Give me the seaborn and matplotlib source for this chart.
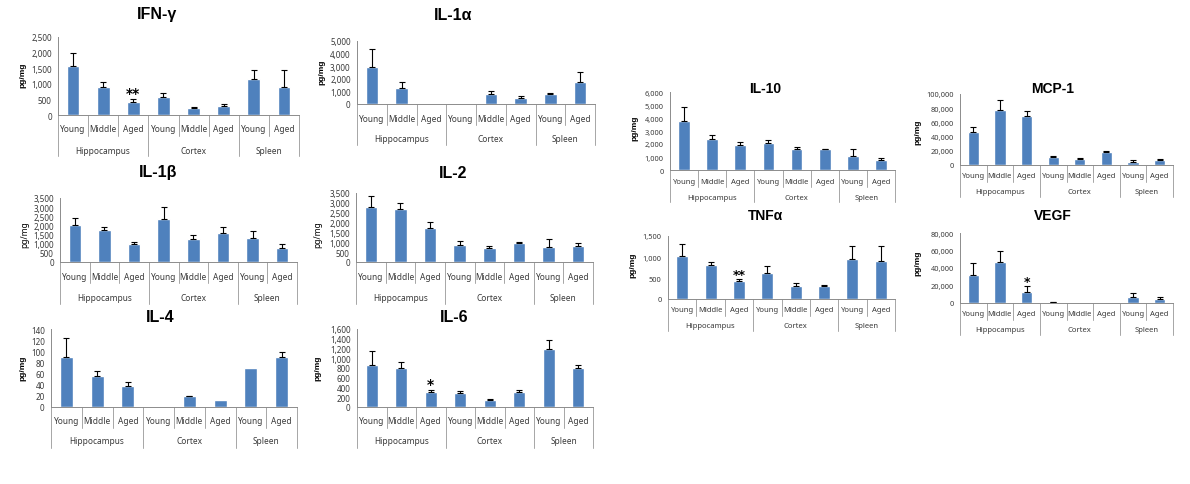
import matplotlib
matplotlib.use("Agg")
import matplotlib.pyplot as plt
import matplotlib.transforms as mtransforms
from matplotlib.lines import Line2D
from matplotlib.ticker import FuncFormatter, MultipleLocator
import seaborn as sns
import pandas as pd

# multi-level category axis: age group within tissue
ages = ["Young", "Middle", "Aged", "Young", "Middle", "Aged", "Young", "Aged"]
tissues = ["Hippocampus", "Cortex", "Spleen"]
tissue_sizes = [3, 3, 2]

# cytokine levels (pg/mg), bar = mean, err = upper error bar
ifng_mean = [1580, 910, 420, 570, 220, 300, 1160, 900]
ifng_err = [420, 150, 100, 140, 40, 60, 290, 550]
il1a_mean = [2900, 1250, 0, 0, 800, 480, 770, 1750]
il1a_err = [1430, 470, 0, 0, 200, 120, 130, 770]
il1b_mean = [2000, 1730, 960, 2370, 1250, 1600, 1300, 790]
il1b_err = [400, 200, 160, 630, 200, 300, 420, 210]
il2_mean = [2780, 2670, 1730, 850, 720, 970, 760, 800]
il2_err = [590, 330, 320, 240, 80, 60, 390, 150]
il4_mean = [89, 55, 38, 0, 19, 13, 70, 89]
il4_err = [34, 10, 6, 0, 0.5, 0, 0, 10]
il6_mean = [860, 800, 315, 295, 135, 300, 1200, 800]
il6_err = [280, 130, 40, 40, 35, 55, 170, 70]
il10_mean = [3780, 2400, 1900, 2050, 1650, 1600, 1070, 800]
il10_err = [1070, 300, 250, 250, 150, 50, 530, 100]
mcp1_mean = [46000, 77000, 69000, 11000, 9000, 18500, 4500, 7000]
mcp1_err = [8000, 14000, 7000, 2000, 1000, 1500, 2500, 1000]
tnfa_mean = [1020, 810, 420, 610, 310, 300, 960, 910]
tnfa_err = [300, 70, 50, 170, 80, 40, 300, 360]
vegf_mean = [32000, 47000, 12500, 900, 0, 200, 7000, 4500]
vegf_err = [14000, 13000, 6500, 300, 0, 0, 5000, 2500]

BAR = "#4F81BD"
AXIS = "#8C8C8C"
TXT = "#3A3A3A"
BOLD_FONT = ["Liberation Sans", "DejaVu Sans"]
W, H = 1190, 485


def draw_panel(fig, p):
    l, t, r, b = p["box"]
    ax = fig.add_axes([l / W, 1 - b / H, (r - l) / W, (b - t) / H])
    keys = [str(i) for i in range(len(ages))]
    df = pd.DataFrame({"key": keys, "value": p["mean"]})
    sns.barplot(data=df, x="key", y="value", order=keys, color=BAR,
                saturation=1, width=0.42, errorbar=None, ax=ax)

    # upper error bars only
    xs = [i for i, e in enumerate(p["err"]) if e > 0]
    ax.errorbar(xs, [p["mean"][i] for i in xs],
                yerr=[[0] * len(xs), [p["err"][i] for i in xs]],
                fmt="none", ecolor="black", elinewidth=0.8, capsize=2.2, capthick=0.8)

    ax.set_xlim(-0.5, len(ages) - 0.5)
    ax.set_ylim(0, p["ymax"])
    ax.yaxis.set_major_locator(MultipleLocator(p["ystep"]))
    ax.yaxis.set_major_formatter(FuncFormatter(lambda v, _: f"{v:,.0f}"))
    ax.set_xticks([])
    ax.set_xlabel("")
    ax.set_ylabel("")
    for s in ["top", "right"]:
        ax.spines[s].set_visible(False)
    for s in ["left", "bottom"]:
        ax.spines[s].set_color(AXIS)
        ax.spines[s].set_linewidth(0.7)
    ax.tick_params(axis="y", length=3, width=0.6, color=AXIS,
                   labelsize=p["fs"], labelcolor=TXT, pad=1.5)

    # category labels below the axis
    row1, row2, short, long_ = p["rows"]
    ah = b - t
    trans = mtransforms.blended_transform_factory(ax.transData, ax.transAxes)
    for i, a in enumerate(ages):
        ax.text(i, 0, a, transform=mtransforms.offset_copy(trans, fig, y=-row1, units="dots"),
                ha="center", va="center", fontsize=p["cfs"], color=TXT, clip_on=False)
    start = 0
    bounds = [-0.5]
    for name, n in zip(tissues, tissue_sizes):
        ax.text(start + (n - 1) / 2, 0, name,
                transform=mtransforms.offset_copy(trans, fig, y=-row2, units="dots"),
                ha="center", va="center", fontsize=p["cfs"], color=TXT, clip_on=False)
        start += n
        bounds.append(start - 0.5)
    for i in range(len(ages) + 1):
        x = i - 0.5
        depth = long_ if x in bounds else short
        ax.add_line(Line2D([x, x], [0, -depth / ah], transform=trans, color="#A6A6A6",
                           lw=0.7, clip_on=False))

    if p.get("star"):
        idx, mark = p["star"]
        ax.annotate(mark, xy=(idx, p["mean"][idx] + p["err"][idx]), xytext=(0, 1),
                    textcoords="offset points", ha="center", va="baseline",
                    fontsize=p["sfs"], fontweight="bold", color="black",
                    family=["DejaVu Sans"])

    fig.text(p["title_xy"][0] / W, 1 - p["title_xy"][1] / H, p["title"],
             ha="center", va="center", fontsize=p["tfs"], fontweight="bold",
             color="black", family=BOLD_FONT)
    fig.text(p["ylab_xy"][0] / W, 1 - p["ylab_xy"][1] / H, "pg/mg", rotation=90,
             ha="center", va="center", fontsize=6, fontweight=p["ylw"], color="black",
             family=BOLD_FONT if p["ylw"] == "bold" else None)
    return ax


def main():
    sns.set_style("white")
    plt.rcParams["font.family"] = ["Noto Sans", "DejaVu Sans"]

    fig = plt.figure(figsize=(W / 100, H / 100), dpi=100)

    big = dict(fs=5.8, cfs=6, tfs=11.5, sfs=10)
    small = dict(fs=5.3, cfs=5.5, tfs=10, sfs=9)
    panels = [
        dict(big, title="IFN-γ", mean=ifng_mean, err=ifng_err, ymax=2500, ystep=500,
             box=(58, 38, 299, 116), rows=(13, 35, 21, 41), title_xy=(157, 15),
             ylab_xy=(23, 75), ylw="bold", star=(2, "**")),
        dict(big, title="IL-1α", mean=il1a_mean, err=il1a_err, ymax=5000, ystep=1000,
             box=(357, 42, 595, 105), rows=(14, 35, 21, 41), title_xy=(453, 15),
             ylab_xy=(322, 72), ylw="bold"),
        dict(big, title="IL-1β", mean=il1b_mean, err=il1b_err, ymax=3500, ystep=500,
             box=(60, 199, 297, 263), rows=(15, 36, 21, 42), title_xy=(158, 173),
             ylab_xy=(25, 235), ylw="normal"),
        dict(big, title="IL-2", mean=il2_mean, err=il2_err, ymax=3500, ystep=500,
             box=(356, 194, 593, 263), rows=(15, 36, 21, 42), title_xy=(453, 173),
             ylab_xy=(318, 235), ylw="normal"),
        dict(big, title="IL-4", mean=il4_mean, err=il4_err, ymax=140, ystep=20,
             box=(51, 330, 297, 408), rows=(14, 34, 21, 41), title_xy=(160, 318),
             ylab_xy=(23, 368), ylw="bold"),
        dict(big, title="IL-6", mean=il6_mean, err=il6_err, ymax=1600, ystep=200,
             box=(357, 330, 593, 408), rows=(14, 34, 21, 41), title_xy=(454, 318),
             ylab_xy=(318, 368), ylw="bold", star=(2, "*")),
        dict(small, title="IL-10", mean=il10_mean, err=il10_err, ymax=6000, ystep=1000,
             box=(670, 93, 895, 171), rows=(11, 27, 17, 32), title_xy=(765, 89),
             ylab_xy=(635, 128), ylw="bold"),
        dict(small, title="MCP-1", mean=mcp1_mean, err=mcp1_err, ymax=100000, ystep=20000,
             box=(960, 95, 1173, 166), rows=(10, 26, 17, 32), title_xy=(1053, 89),
             ylab_xy=(918, 132), ylw="bold"),
        dict(small, title="TNFα", mean=tnfa_mean, err=tnfa_err, ymax=1500, ystep=500,
             box=(668, 237, 895, 300), rows=(11, 27, 17, 32), title_xy=(765, 216),
             ylab_xy=(633, 265), ylw="bold", star=(2, "**")),
        dict(small, title="VEGF", mean=vegf_mean, err=vegf_err, ymax=80000, ystep=20000,
             box=(960, 234, 1173, 304), rows=(11, 27, 17, 32), title_xy=(1053, 216),
             ylab_xy=(918, 263), ylw="bold", star=(2, "*")),
    ]
    for p in panels:
        draw_panel(fig, p)

    fig.savefig("out.png", dpi=100, facecolor="white")
    plt.close(fig)


if __name__ == "__main__":
    main()
